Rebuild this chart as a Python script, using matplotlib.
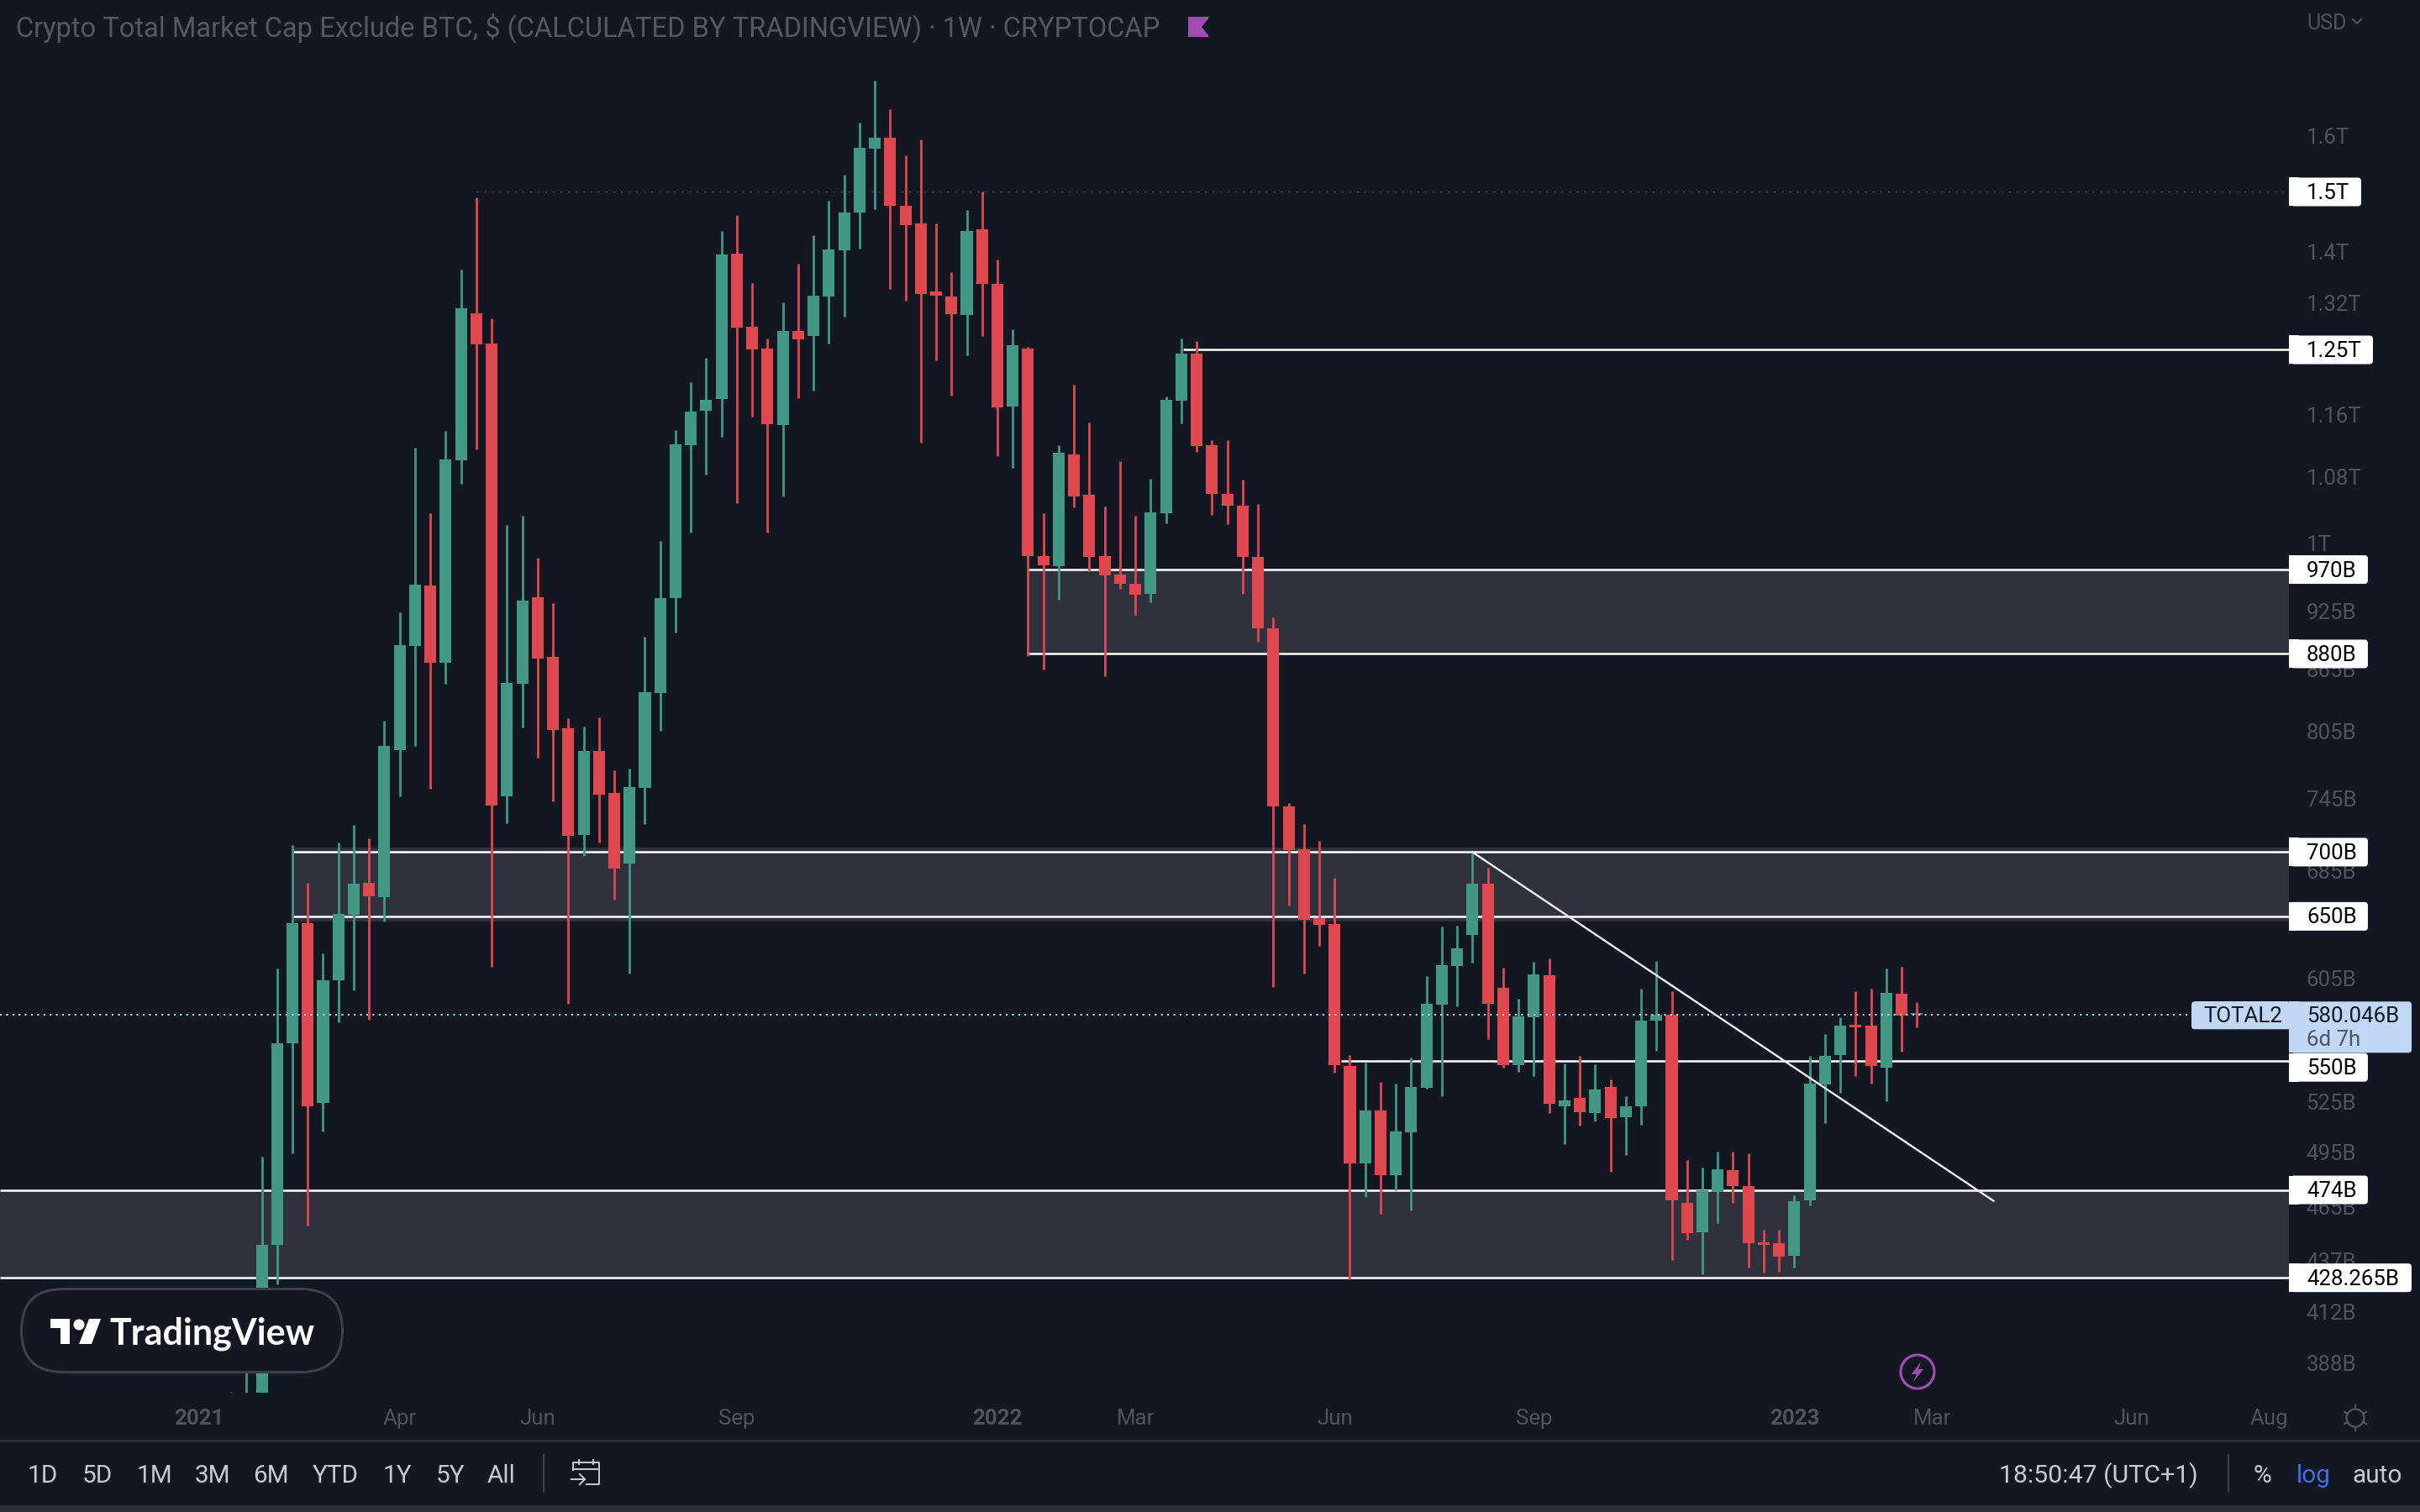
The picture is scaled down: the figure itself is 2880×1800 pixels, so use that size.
import matplotlib
matplotlib.use('Agg')
import matplotlib.pyplot as plt
from matplotlib.patches import FancyBboxPatch, Rectangle, Circle, Polygon

# weekly candles in billions of USD
opens = [350, 350, 365, 445, 561.4, 645.2, 524, 604, 651.3, 675.5, 664.5,
         787.8, 888.4, 952.5, 870.8, 1100, 1303.9, 1259.2, 746.7, 850.3, 939.2,
         876.8, 807.9, 714.2, 786.6, 749.4, 691.2, 753.7, 840.9, 938.5, 1119.8,
         1164.6, 1181.3, 1397, 1284, 1252.4, 1145.8, 1277.6, 1270.1,
         1329.2, 1402.3, 1465.1, 1577, 1596.8, 1475.7, 1446.1, 1337, 1329.2, 1301,
         1436.6, 1349, 1170.5, 1251.5, 984.9, 974, 1107.4, 1057.7, 984.9, 964.6,
         953.9, 943.3, 1035.1, 1178.6, 1244, 1119.8, 1058.4, 1044.4, 984.1, 906.4,
         737.8, 702.2, 648.4, 644.3, 546.8, 488.5, 519.7, 481.9, 506.4, 533.1,
         587, 613.7, 636, 674.7, 598.3, 547.2, 578.4, 607.1, 522.2, 526.9,
         517.9, 533.7, 515.4, 521.8, 576.2, 580.5, 467, 451.2, 472.8, 484.8,
         476, 446, 445.6, 439.3, 468.3, 535.3, 553.9, 573.4, 572.9, 545.7,
         594.3, 581.5]
highs = [375.5, 420, 492.6, 612.3, 705.7, 675.5, 622.5, 707.7, 722.3, 711, 814.6,
         923.3, 1116.5, 1035.1, 1138.3, 1371.3, 1490, 1296.3, 1021.4, 1032, 983.4,
         932.9, 816.9, 809.5, 818.2, 769.3, 771, 897.7, 1002.8, 1139, 1204.3,
         1238.6, 1433.8, 1460.8, 1350, 1266, 1320.4, 1380.6, 1427.4,
         1485.3, 1530.6, 1625.5, 1705.6, 1650.9, 1565, 1593, 1446.1, 1367, 1469.5,
         1500, 1388, 1280.4, 1254.3, 1035.1, 1119.8, 1200.7, 1149.2, 1042.8, 1099.2,
         1032.1, 1077.4, 1184.8, 1266, 1263.3, 1126.5, 1126.5, 1075.8, 1045.9, 917.9,
         740.8, 723, 709, 679.5, 553.9, 549, 536.8, 535.7, 552.4, 606.5,
         642.1, 642.9, 700.8, 687.4, 612.4, 590.9, 616.6, 619.1, 548.3, 553.5,
         547.9, 538.3, 527.9, 597.8, 617.1, 596.2, 490.4, 486.5, 495.6, 495.2,
         494.2, 452.5, 452.5, 471.1, 553.5, 567.4, 578.4, 596.2, 597.8, 612,
         613.2, 588.6]
lows = [345, 340, 340, 425, 494.5, 455, 507, 575.4, 596.8, 576.8, 645.9,
        746.7, 791.3, 752.9, 850.3, 1071, 1114, 613, 723.8, 808.5, 780.8,
        742, 587.6, 696.9, 707.9, 662.7, 608.5, 723.3, 805.4, 901.7, 1012.3,
        1081.9, 1130.7, 1047.5, 1156.8, 1012.3, 1055.3, 1182.2, 1192.6,
        1259.2, 1299, 1405.3, 1470.6, 1340.9, 1323.3, 1123.2, 1235.1, 1185.7, 1242.4,
        1270.1, 1105.8, 1090.9, 877.9, 864.4, 936.4, 1042, 968.2, 857.8, 948.3,
        920.6, 934.3, 1022.8, 1148.4, 1110.8, 1032.8, 1022.1, 943.3, 892.4, 599.1,
        658.2, 608.2, 628.2, 542.6, 427.4, 470.1, 460.9, 473.7, 462.8, 532.7,
        527.9, 585.8, 616.1, 564.4, 545.7, 543.1, 540.5, 517.9, 499.7, 510.4,
        513, 483.9, 493.3, 510.8, 556.6, 437.2, 447.4, 429.9, 456.4, 467,
        433.5, 430.8, 431.2, 433.2, 465.5, 512, 530, 540.5, 535.7, 525.2,
        556, 571.8]
closes = [362, 370, 444.9, 561.4, 644.6, 522, 604, 652, 675, 665.1, 791.2,
          889.1, 953.2, 870.8, 1101.7, 1311.6, 1258.2, 738.5, 850.9, 935.7, 875.5,
          806, 713.1, 786.6, 747.8, 686.7, 754.3, 842.2, 938.5, 1120.6, 1163.9,
          1179.5, 1395, 1283, 1250.7, 1147.5, 1277.6, 1265.3, 1330.2,
          1403.3, 1465.1, 1578, 1596.8, 1476.8, 1444, 1333, 1330.2, 1303, 1434.5,
          1349, 1169.6, 1256.1, 984.9, 974.7, 1110, 1055.3, 984.1, 963.2, 953.9,
          942, 1035.9, 1179.5, 1244, 1119, 1058.4, 1044.4, 984.1, 906.4, 737.9,
          701.6, 647.4, 643.4, 547.2, 488.5, 519.3, 481.9, 507, 533.7, 587.8,
          614.2, 626.4, 674.7, 587.8, 547.2, 578.9, 607.8, 523.3, 525.8, 518.3,
          532, 514.8, 522.2, 576.2, 580, 468.3, 450.8, 473.7, 485.2, 476,
          445.6, 444.9, 438.8, 467.9, 535.7, 553.5, 572.9, 571.8, 546.8, 595,
          579.4, 580.046]

price_ticks = [1600, 1400, 1320, 1160, 1080, 1000, 925, 865, 805, 745, 685, 605, 525, 495, 465, 437, 412, 388]
price_tick_labels = ['1.6T', '1.4T', '1.32T', '1.16T', '1.08T', '1T', '925B', '865B', '805B', '745B', '685B',
                     '605B', '525B', '495B', '465B', '437B', '412B', '388B']
date_ticks = [-2.1, 11, 20, 33, 50, 59, 72, 85, 102, 111, 124, 133]
date_labels = ['2021', 'Apr', 'Jun', 'Sep', '2022', 'Mar', 'Jun', 'Sep', '2023', 'Mar', 'Jun', 'Aug']

level_labels = ['1.5T', '1.25T', '970B', '880B', '700B', '650B', '550B', '474B', '428.265B']
level_values = [1500, 1250, 970, 880, 700, 650, 550, 474, 428.265]
level_box_right = [2810, 2824, 2818, 2818, 2818, 2818, 2818, 2818, 2870]

last_price = 580.046
range_buttons = ['1D', '5D', '1M', '3M', '6M', 'YTD', '1Y', '5Y', 'All']
range_button_x = [51, 116, 184, 253, 322, 399, 473, 536, 597]

BG = '#131722'
GREEN = '#429885'
RED = '#e04850'
ZONE = '#2f323c'
MUTED = '#50535e'
BUTTON = '#c8cad2'
PURPLE = '#a24db4'
BLUE_BOX = '#c0d7f6'

plt.rcParams['font.family'] = ['Roboto', 'DejaVu Sans']

fig = plt.figure(figsize=(14.4, 9), dpi=200, facecolor=BG)
ax = fig.add_axes([0, 142 / 1800, 2724 / 2880, 1658 / 1800], facecolor=BG)
ax.set_yscale('log')
ax.set_xlim(-15.08, 134.27)
ax.set_ylim(375.05, 1872)
x_end = 134.27
x_start = -15.08

for side in ax.spines.values():
    side.set_visible(False)

# zones and levels
ax.fill_between([x_start, x_end], 428.265, 474, color=ZONE, lw=0, zorder=1)
ax.fill_between([4.05, x_end], 646.2, 704, color=ZONE, lw=0, zorder=1)
ax.fill_between([52.03, x_end], 880, 970, color=ZONE, lw=0, zorder=1)
line_w = 0.9
ax.hlines([474, 428.265], x_start, x_end, color='white', lw=line_w, zorder=2)
ax.hlines([700, 650], 4.05, x_end, color='white', lw=line_w, zorder=2)
ax.hlines([970, 880], 52.03, x_end, color='white', lw=line_w, zorder=2)
ax.hlines(1250, 62.1, x_end, color='white', lw=line_w, zorder=2)
ax.hlines(550, 72.45, x_end, color='white', lw=line_w, zorder=2)
ax.hlines(1500, 16, x_end, color='#4a4d57', lw=0.5, linestyles=(0, (1.5, 5)), zorder=2)

# candles
idx = list(range(len(opens)))
colors = [GREEN if c >= o else RED for o, c in zip(opens, closes)]
body_low = [min(o, c) for o, c in zip(opens, closes)]
body_size = [abs(c - o) for o, c in zip(opens, closes)]
ax.vlines(idx, lows, highs, colors=colors, lw=1.0, zorder=3)
ax.bar(idx, body_size, bottom=body_low, width=0.77, color=colors, lw=0, zorder=4)

# trend line and last price line
ax.plot([81, 115], [700, 468], color='#f0f0f0', lw=0.85, zorder=5)
ax.plot([x_start, 128.2], [last_price, last_price], color=BLUE_BOX, lw=0.7,
        linestyle=(0, (1.1, 2.7)), zorder=6)

ax.yaxis.tick_right()
ax.set_yticks(price_ticks)
ax.set_yticklabels(price_tick_labels)
ax.minorticks_off()
ax.tick_params(axis='y', which='both', length=0, pad=7.4, labelsize=9.3, labelcolor=MUTED)
ax.set_xticks(date_ticks)
ax.set_xticklabels(date_labels)
ax.tick_params(axis='x', which='both', length=0, pad=7.0, labelsize=9.3, labelcolor=MUTED)
for tick_text in ax.get_xticklabels():
    if tick_text.get_text().isdigit():
        tick_text.set_fontweight('bold')

# everything around the chart goes on a pixel overlay
ui = fig.add_axes([0, 0, 1, 1], zorder=10)
ui.set_xlim(0, 2880)
ui.set_ylim(1800, 0)
ui.axis('off')


def price_to_px(price):
    return 1800 - ax.transData.transform((0, price))[1]


def price_box(left, right, top, bottom, color):
    # square on the left, rounded on the right
    ui.add_patch(FancyBboxPatch((left + 6, top + 4), right - left - 10, bottom - top - 8,
                                boxstyle='round,pad=4', fc=color, ec='none'))
    ui.add_patch(Rectangle((left, top), 12, bottom - top, fc=color, ec='none'))


for label, value, right in zip(level_labels, level_values, level_box_right):
    py = price_to_px(value)
    if label == '550B':
        py += 7.5
    price_box(2724, right, py - 17, py + 17, 'white')
    ui.text(2745, py + 1.5, label, color='black', fontsize=9.3, va='center', ha='left')

# last price tags
last_y = price_to_px(last_price)
ui.add_patch(Rectangle((2612, last_y - 16), 110, 33, fc=BLUE_BOX, ec='none'))
ui.add_patch(FancyBboxPatch((2612, last_y - 12), 110, 25, boxstyle='round,pad=4', fc=BLUE_BOX, ec='none'))
ui.text(2622, last_y + 1.5, 'TOTAL2', color='#131722', fontsize=9.3, va='center')
price_box(2724, 2870, last_y - 16, last_y + 45, BLUE_BOX)
ui.text(2745, last_y + 1.5, '580.046B', color='#131722', fontsize=9.3, va='center')
ui.text(2745, last_y + 29.5, '6d 7h', color=MUTED, fontsize=9.3, va='center')

# header
ui.text(19, 33, 'Crypto Total Market Cap Exclude BTC, $ (CALCULATED BY TRADINGVIEW) · 1W · CRYPTOCAP',
        color='#555862', fontsize=11.77, va='center')
ui.add_patch(Polygon([(1414, 20), (1438, 20), (1438, 22), (1430, 32), (1438, 42), (1438, 44), (1414, 44)],
                     fc=PURPLE, ec='none'))
ui.text(2745, 28, 'USD', color=MUTED, fontsize=9, va='center')
ui.plot([2800, 2805, 2810], [23, 28, 23], color=MUTED, lw=0.8)

# logo
ui.add_patch(FancyBboxPatch((75, 1584), 283, 0, boxstyle='round,pad=49.5,rounding_size=49.5',
                            fc=BG, ec='#3d3f49', lw=1.1))
ui.add_patch(Polygon([(60, 1570), (83, 1570), (83, 1600), (72, 1600), (72, 1581), (60, 1581)], fc='white', ec='none'))
ui.add_patch(Circle((94, 1577), 6.5, fc='white', ec='none'))
ui.add_patch(Polygon([(106, 1570), (120, 1570), (109, 1600), (94, 1600)], fc='white', ec='none'))
ui.text(130, 1588, 'TradingView', color='white', fontsize=15.5, fontweight='bold', family='Lato', va='center')

# bolt marker on the time axis
ui.add_patch(Circle((2282, 1633), 20, fc='none', ec=PURPLE, lw=1.1))
ui.add_patch(Polygon([(2286, 1621), (2275, 1636), (2281, 1636), (2277, 1645), (2289, 1630), (2283, 1630)],
                     fc=PURPLE, ec='none'))

# gear-ish icon
ui.add_patch(Circle((2803, 1688), 10.5, fc='none', ec=MUTED, lw=0.8))
for x0, y0, x1, y1 in [(2803, 1673, 2803, 1677), (2803, 1699, 2803, 1703), (2790, 1681, 2794, 1683),
                       (2812, 1693, 2816, 1695), (2790, 1695, 2794, 1693), (2812, 1683, 2816, 1681)]:
    ui.plot([x0, x1], [y0, y1], color=MUTED, lw=0.8)

# bottom toolbar
ui.add_patch(Rectangle((0, 1714), 2880, 2.5, fc='#2a2e39', ec='none'))
ui.add_patch(Rectangle((0, 1792), 2880, 8, fc='#2a2e39', ec='none'))
for label, px in zip(range_buttons, range_button_x):
    ui.text(px, 1757, label, color=BUTTON, fontsize=10.7, ha='center', va='center')
ui.plot([647, 647], [1732, 1776], color='#3b3e48', lw=0.8)
ui.plot([2652, 2652], [1732, 1776], color='#3b3e48', lw=0.8)

# calendar icon
ui.plot([682, 682, 713, 713, 698], [1750, 1741, 1741, 1767, 1767], color=BUTTON, lw=0.7)
ui.plot([682, 713], [1749, 1749], color=BUTTON, lw=0.7)
ui.plot([689, 689], [1738, 1743], color=BUTTON, lw=0.7)
ui.plot([706, 706], [1738, 1743], color=BUTTON, lw=0.7)
ui.plot([680, 696], [1761, 1761], color=BUTTON, lw=0.7)
ui.plot([690, 696, 690], [1755, 1761, 1767], color=BUTTON, lw=0.7)

ui.text(2616, 1757, '18:50:47 (UTC+1)', color=BUTTON, fontsize=10.9, ha='right', va='center')
ui.text(2692, 1757, '%', color=BUTTON, fontsize=10.7, ha='center', va='center')
ui.text(2753, 1757, 'log', color='#3b6fe8', fontsize=10.7, ha='center', va='center')
ui.text(2829, 1757, 'auto', color=BUTTON, fontsize=10.7, ha='center', va='center')

fig.savefig('out.png', dpi=200, facecolor=BG)
plt.close(fig)
